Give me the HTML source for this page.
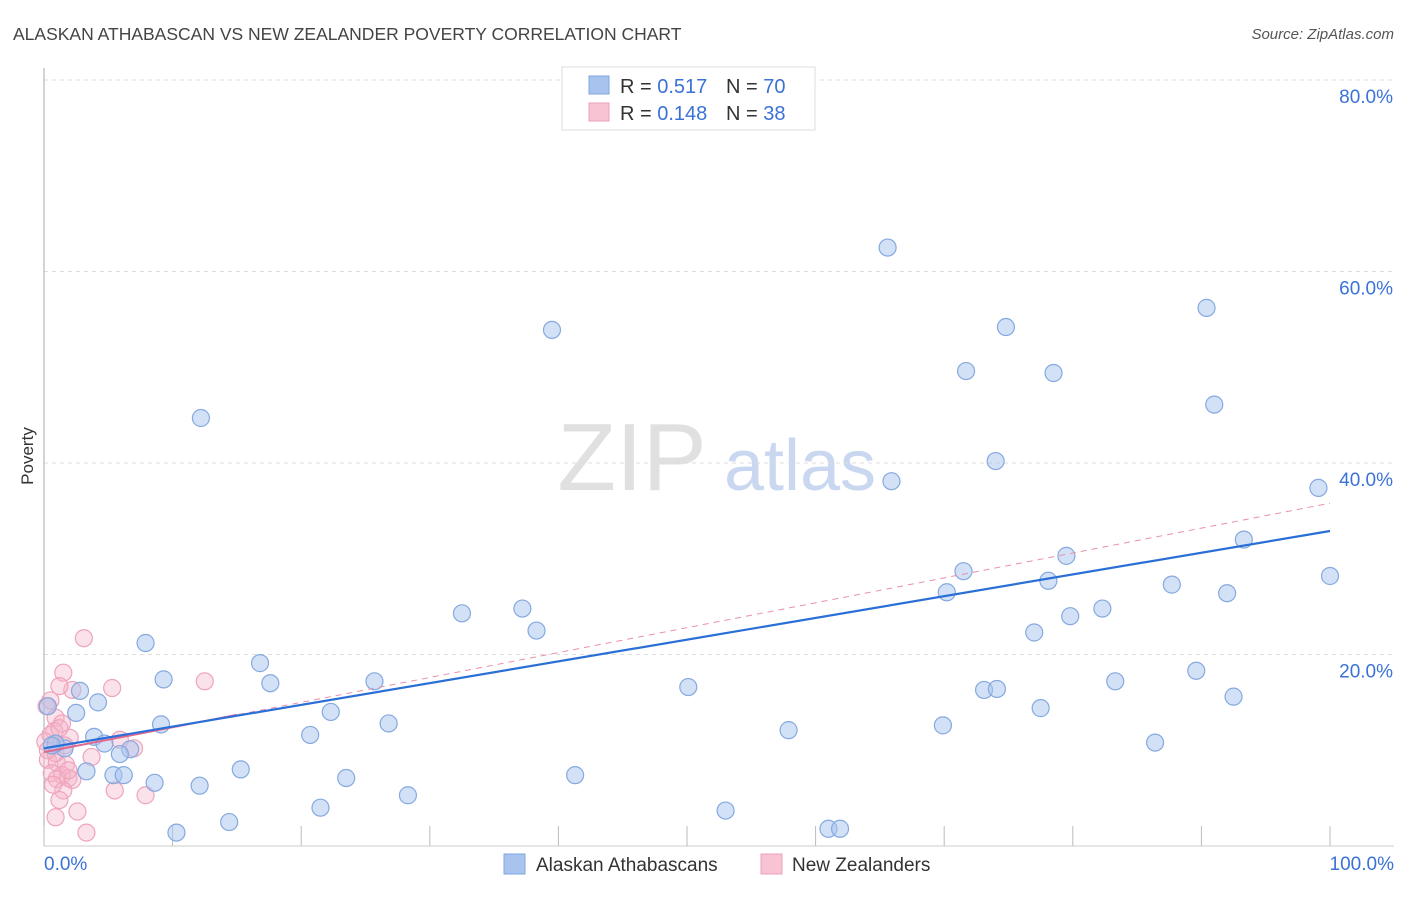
<!DOCTYPE html>
<html><head><meta charset="utf-8"><style>
body{margin:0;background:#fff;font-family:"Liberation Sans",sans-serif}
svg text{font-family:"Liberation Sans",sans-serif}
</style></head><body>
<svg id="chart" width="1406" height="892" xmlns="http://www.w3.org/2000/svg">
<text x="13" y="40" font-size="17.5" fill="#444">ALASKAN ATHABASCAN VS NEW ZEALANDER POVERTY CORRELATION CHART</text>
<text x="1394" y="39" font-size="15" fill="#555" text-anchor="end" font-style="italic">Source: ZipAtlas.com</text>
<text transform="translate(33,456) rotate(-90)" font-size="17" fill="#333" text-anchor="middle">Poverty</text>
<g>
<text x="632" y="490" font-size="96" fill="#e0e0e0" font-family="Liberation Serif, serif" text-anchor="middle">ZIP</text>
<text x="800" y="490" font-size="72" fill="#c9d8f0" text-anchor="middle">atlas</text>
</g>
<g id="grid"></g><g id="axes"></g><g id="marks"></g>
<g>
<rect x="562" y="67" width="253" height="63" fill="#fff" stroke="#ddd"/>
<rect x="589" y="76" width="20" height="18" fill="#a8c4ee" stroke="#7fa6e0"/>
<rect x="589" y="103" width="20" height="18" fill="#f8c4d4" stroke="#eda0b8"/>
<text x="620" y="93" font-size="20" fill="#333">R = <tspan fill="#3a72d8">0.517</tspan></text>
<text x="726" y="93" font-size="20" fill="#333">N = <tspan fill="#3a72d8">70</tspan></text>
<text x="620" y="120" font-size="20" fill="#333">R = <tspan fill="#3a72d8">0.148</tspan></text>
<text x="726" y="120" font-size="20" fill="#333">N = <tspan fill="#3a72d8">38</tspan></text>
</g>
<g>
<rect x="504" y="854" width="21" height="20" fill="#a8c4ee" stroke="#7fa6e0"/>
<text x="536" y="871" font-size="19" fill="#333">Alaskan Athabascans</text>
<rect x="761" y="854" width="21" height="20" fill="#f8c4d4" stroke="#eda0b8"/>
<text x="792" y="871" font-size="19" fill="#333">New Zealanders</text>
</g>
</svg>
<script>
const yTicks=[20,40,60,80];
const yTickLabels=["20.0%","40.0%","60.0%","80.0%"];
const xTicks=[0,10,20,30,40,50,60,70,80,90,100];
const blueX=[65.6,39.5,74.8,90.4,71.7,78.5,91.0,12.2,74.0,65.9,99.1,93.3,79.5,71.5,100,70.2,78.1,87.7,92.0,32.5,37.2,82.3,79.8,38.3,77.0,7.9,16.8,9.3,17.6,25.7,50.1,83.3,73.1,74.1,89.6,92.5,2.8,4.2,2.5,22.3,9.1,26.8,69.9,77.5,20.7,57.9,3.9,4.7,6.7,5.9,1.6,0.9,86.4,15.3,3.3,5.4,6.2,23.5,41.3,8.6,12.1,28.3,21.5,53.0,14.4,10.3,61.0,61.9,0.3,0.6];
const blueY=[62.5,53.9,54.2,56.2,49.6,49.4,46.1,44.7,40.2,38.1,37.4,32.0,30.3,28.7,28.2,26.5,27.7,27.3,26.4,24.3,24.8,24.8,24.0,22.5,22.3,21.2,19.1,17.4,17.0,17.2,16.6,17.2,16.3,16.4,18.3,15.6,16.2,15.0,13.9,14.0,12.7,12.8,12.6,14.4,11.6,12.1,11.4,10.7,10.1,9.6,10.2,10.7,10.8,8.0,7.8,7.4,7.4,7.1,7.4,6.6,6.3,5.3,4.0,3.7,2.5,1.4,1.8,1.8,14.6,10.5];
const pinkX=[3.1,1.5,5.3,12.5,2.2,1.2,0.5,0.2,0.9,1.4,2.0,0.8,0.1,5.9,7.0,3.7,0.3,1.0,1.7,0.6,1.4,1.9,2.2,1.0,1.5,5.5,7.9,1.2,2.6,0.9,3.3,0.3,0.9,1.6,0.5,1.2,1.9,0.7];
const pinkY=[21.7,18.1,16.5,17.2,16.3,16.7,15.2,14.6,13.4,12.8,11.3,12.0,10.9,11.1,10.2,9.3,9.0,8.7,8.5,7.6,7.4,7.1,6.9,7.0,5.8,5.8,5.3,4.8,3.6,3.0,1.4,10.0,9.7,10.5,11.6,12.3,7.9,6.4];
const blueTrend=[10.2,32.9];
const pinkTrend=[9.8,35.8];
const pinkSolidEnd=15;
const NS="http://www.w3.org/2000/svg";
const X=v=>44+v*12.86, Y=v=>846-v*9.575;
function mk(p,t,a){const e=document.createElementNS(NS,t);for(const k in a)e.setAttribute(k,a[k]);p.appendChild(e);return e;}
const grid=document.getElementById('grid'),axes=document.getElementById('axes'),marks=document.getElementById('marks');
yTicks.forEach((t,i)=>{
 const l=mk(grid,'line',{x1:44,x2:1394,y1:Y(t),y2:Y(t),stroke:'#ddd','stroke-dasharray':'4,4'});
 
 
 const tx=mk(axes,'text',{x:1393,y:Y(t)+23,'font-size':19,fill:'#3a72d8','text-anchor':'end'});tx.textContent=yTickLabels[i];
 
 
});
const ya=mk(axes,'line',{x1:44,x2:44,y1:68,y2:846,stroke:'#aaa'});


const xa=mk(axes,'line',{x1:44,x2:1394,y1:846,y2:846,stroke:'#ccc'});


xTicks.forEach(t=>{const l=mk(axes,'line',{x1:X(t),x2:X(t),y1:826,y2:846,stroke:'#bbb'});
 
 });
[["0.0%",44,'start'],["100.0%",1394,'end']].forEach(d=>{const t=mk(axes,'text',{x:d[1],y:870,'font-size':19,fill:'#3a72d8','text-anchor':d[2]});t.textContent=d[0];
 
 });
pinkX.forEach((v,i)=>{const c=mk(marks,'circle',{cx:X(v),cy:Y(pinkY[i]),r:8.5,fill:'rgba(246,180,200,0.4)',stroke:'#eea4bc','stroke-width':1.2});
 
 });
blueX.forEach((v,i)=>{const c=mk(marks,'circle',{cx:X(v),cy:Y(blueY[i]),r:8.5,fill:'rgba(168,196,238,0.5)',stroke:'#85a9e0','stroke-width':1.2});
 
 });
const pd=mk(marks,'line',{x1:X(0),y1:Y(pinkTrend[0]),x2:X(100),y2:Y(pinkTrend[1]),stroke:'#e890aa','stroke-width':1,'stroke-dasharray':'6,5'});


const ps=mk(marks,'line',{x1:X(0),y1:Y(pinkTrend[0]),x2:X(pinkSolidEnd),y2:Y(pinkTrend[0]+(pinkTrend[1]-pinkTrend[0])*pinkSolidEnd/100),stroke:'#e06890','stroke-width':2});


const bt=mk(marks,'line',{x1:X(0),y1:Y(blueTrend[0]),x2:X(100),y2:Y(blueTrend[1]),stroke:'#2a6fd6','stroke-width':2.2});


</script>
</body></html>
